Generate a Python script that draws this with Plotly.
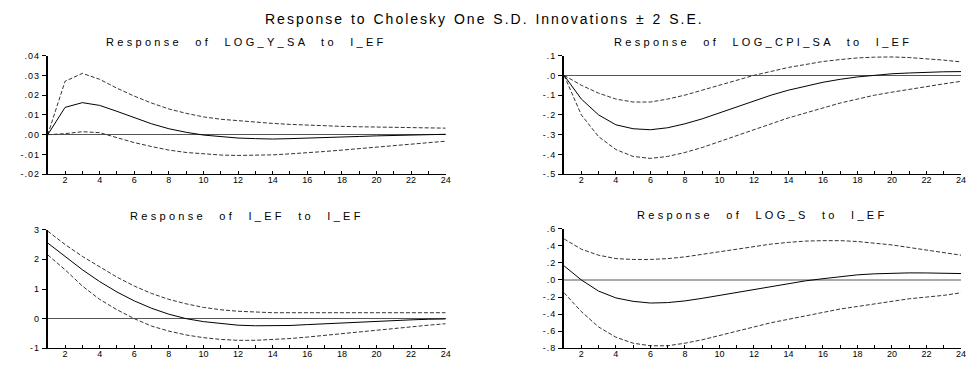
import plotly.graph_objects as go

periods = list(range(1, 25))

# Panel 1: Response of LOG_Y_SA to I_EF
y_sa_resp = [0, .0138, .0162, .0148, .0118, .0085, .0055, .0030, .0012, -.0002, -.0010, -.0017,
             -.0020, -.0022, -.0020, -.0018, -.0015, -.0012, -.0009, -.0006, -.0004, -.0002, 0, .0002]
y_sa_up = [0, .0270, .0310, .0280, .0235, .0195, .0160, .0130, .0108, .0090, .0078, .0070,
           .0063, .0057, .0052, .0048, .0045, .0042, .0040, .0038, .0036, .0035, .0034, .0033]
y_sa_lo = [0, .0005, .0015, .0010, -.0015, -.0040, -.0060, -.0078, -.0090, -.0098, -.0103, -.0105,
           -.0105, -.0102, -.0097, -.0092, -.0085, -.0078, -.0070, -.0062, -.0055, -.0047, -.0040, -.0033]

# Panel 2: Response of LOG_CPI_SA to I_EF
cpi_resp = [0, -.12, -.20, -.25, -.27, -.275, -.265, -.245, -.22, -.19, -.16, -.13,
            -.10, -.075, -.055, -.035, -.02, -.008, 0, .008, .012, .016, .018, .019]
cpi_up = [0, -.05, -.09, -.12, -.135, -.135, -.12, -.10, -.075, -.05, -.025, 0,
          .02, .04, .055, .07, .08, .088, .092, .093, .09, .085, .077, .068]
cpi_lo = [0, -.20, -.31, -.375, -.41, -.42, -.41, -.39, -.365, -.335, -.305, -.275,
          -.245, -.215, -.19, -.165, -.14, -.12, -.10, -.085, -.07, -.055, -.043, -.03]

# Panel 3: Response of I_EF to I_EF
ief_resp = [2.55, 2.10, 1.65, 1.25, 0.90, 0.60, 0.35, 0.15, 0.0, -0.10, -0.17, -0.22,
            -0.24, -0.24, -0.23, -0.20, -0.17, -0.14, -0.11, -0.08, -0.06, -0.04, -0.02, -0.01]
ief_up = [2.95, 2.50, 2.10, 1.75, 1.40, 1.10, 0.85, 0.65, 0.50, 0.38, 0.30, 0.25,
          0.22, 0.20, 0.20, 0.20, 0.20, 0.20, 0.20, 0.20, 0.20, 0.20, 0.20, 0.20]
ief_lo = [2.15, 1.65, 1.10, 0.65, 0.30, 0.0, -0.25, -0.42, -0.55, -0.64, -0.70, -0.73,
          -0.73, -0.71, -0.67, -0.62, -0.56, -0.50, -0.44, -0.38, -0.32, -0.27, -0.22, -0.17]

# Panel 4: Response of LOG_S to I_EF
s_resp = [.165, 0, -.13, -.21, -.25, -.27, -.265, -.245, -.215, -.18, -.145, -.11,
          -.075, -.04, -.01, .015, .04, .06, .072, .08, .083, .082, .08, .075]
s_up = [.48, .36, .29, .25, .24, .24, .25, .27, .30, .33, .36, .39,
        .42, .44, .455, .46, .46, .45, .43, .41, .38, .35, .32, .29]
s_lo = [-.15, -.37, -.55, -.67, -.74, -.77, -.77, -.74, -.70, -.65, -.60, -.55,
        -.50, -.46, -.42, -.38, -.34, -.31, -.28, -.25, -.22, -.20, -.18, -.15]

main_title = "Response to Cholesky One S.D. Innovations \u00b1 2 S.E."
panel_titles = ["Response of LOG_Y_SA to I_EF", "Response of LOG_CPI_SA to I_EF",
                "Response of I_EF to I_EF", "Response of LOG_S to I_EF"]

x_ticks = list(range(2, 25, 2))
x_labels = [str(v) for v in x_ticks]
y1_ticks = [-.02, -.01, 0, .01, .02, .03, .04]
y1_labels = ["-.02", "-.01", ".00", ".01", ".02", ".03", ".04"]
y2_ticks = [-.5, -.4, -.3, -.2, -.1, 0, .1]
y2_labels = ["-.5", "-.4", "-.3", "-.2", "-.1", ".0", ".1"]
y3_ticks = [-1, 0, 1, 2, 3]
y3_labels = ["-1", "0", "1", "2", "3"]
y4_ticks = [-.8, -.6, -.4, -.2, 0, .2, .4, .6]
y4_labels = ["-.8", "-.6", "-.4", "-.2", ".0", ".2", ".4", ".6"]

W, H = 973, 365
FONT = "Liberation Sans, Arial, sans-serif"


def spaced(text, ls, ws=0):
    return '<span style="letter-spacing:%spx;word-spacing:%spx">%s</span>' % (ls, ws, text)


panels = [
    dict(resp=y_sa_resp, up=y_sa_up, lo=y_sa_lo, ticks=y1_ticks, labels=y1_labels, rng=[-.02, .04],
         x=(48, 448), y=(52, 174), zc="#555555", zw=1),
    dict(resp=cpi_resp, up=cpi_up, lo=cpi_lo, ticks=y2_ticks, labels=y2_labels, rng=[-.5, .1],
         x=(567, 966), y=(52, 174), zc="#555555", zw=1),
    dict(resp=ief_resp, up=ief_up, lo=ief_lo, ticks=y3_ticks, labels=y3_labels, rng=[-1, 3],
         x=(48, 448), y=(231, 353), zc="#555555", zw=1),
    dict(resp=s_resp, up=s_up, lo=s_lo, ticks=y4_ticks, labels=y4_labels, rng=[-.8, .6],
         x=(567, 966), y=(230, 353), zc="#aaaaaa", zw=2),
]

fig = go.Figure()
layout = dict(
    width=W, height=H, margin=dict(l=0, r=0, t=0, b=0),
    paper_bgcolor="white", plot_bgcolor="white", showlegend=False,
    font=dict(family=FONT, size=9, color="black"),
)
annotations = [dict(text=spaced(main_title, 2, 1),
                    x=0.5, y=1 - 14 / H, xref="paper", yref="paper", showarrow=False,
                    font=dict(size=14, family=FONT), xanchor="center", yanchor="middle")]

for i, p in enumerate(panels):
    k = "" if i == 0 else str(i + 1)
    xa, ya = "x" + k, "y" + k
    for arr, dash, col in [(p["up"], "4px,2px", "#333333"), (p["lo"], "4px,2px", "#333333"),
                           (p["resp"], "solid", "black")]:
        fig.add_trace(go.Scatter(x=periods, y=arr, mode="lines", xaxis=xa, yaxis=ya,
                                 line=dict(color=col, width=1, dash=dash)))
    x0, x1 = p["x"]
    yt, yb = p["y"]
    layout["xaxis" + k] = dict(
        domain=[x0 / W, x1 / W], anchor=ya, range=[1, 24], tickmode="array",
        tickvals=x_ticks, ticktext=x_labels, ticklabelstandoff=-3,
        ticks="inside", ticklen=3, tickcolor="black", showline=True, linecolor="black", linewidth=1,
        showgrid=False, zeroline=False, tickfont=dict(size=9),
        minor=dict(tickmode="linear", tick0=1, dtick=1, ticks="inside", ticklen=3, tickcolor="black"),
    )
    layout["yaxis" + k] = dict(
        domain=[(H - yb) / H, (H - yt) / H], anchor=xa, range=p["rng"], tickmode="array",
        tickvals=p["ticks"], ticktext=[spaced(t, 1) for t in p["labels"]],
        ticks="outside", ticklen=4, tickcolor="black",
        showline=True, linecolor="black", linewidth=2, showgrid=False,
        zeroline=True, zerolinecolor=p["zc"], zerolinewidth=p["zw"], tickfont=dict(size=9),
    )
    annotations.append(dict(text=spaced(panel_titles[i], 3.3, 7),
                            x=(x0 + x1) / 2 / W, y=1 - (yt - 14) / H, xref="paper", yref="paper",
                            showarrow=False, font=dict(size=11, family=FONT),
                            xanchor="center", yanchor="middle"))

layout["annotations"] = annotations
fig.update_layout(**layout)
fig.write_html("out.html", config={"displayModeBar": False},
               post_script="document.body.style.margin='0px';document.body.style.overflow='hidden';")
